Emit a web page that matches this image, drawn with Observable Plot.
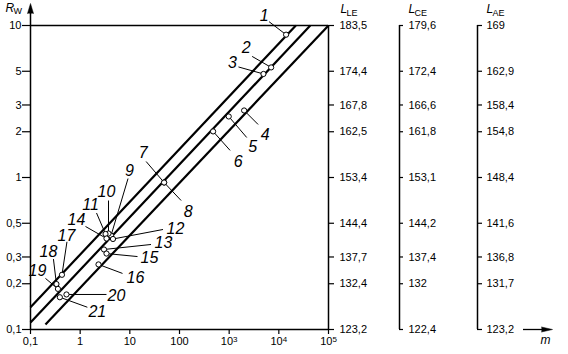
<!DOCTYPE html>
<html><head><meta charset="utf-8">
<script src="https://cdn.jsdelivr.net/npm/d3@7"></script>
<script src="https://cdn.jsdelivr.net/npm/@observablehq/plot@0.6"></script>
<style>body{margin:0;background:#fff;}</style>
</head><body><div id="chart"></div>
<script>
// ---- data ----
const rwTicks = [0.1, 0.2, 0.3, 0.5, 1, 2, 3, 5, 10];
const rwTickLabels = ["0,1", "0,2", "0,3", "0,5", "1", "2", "3", "5", "10"];
const lleLabels = ["123,2", "132,4", "137,7", "144,4", "153,4", "162,5", "167,8", "174,4", "183,5"];
const lceLabels = ["122,4", "132", "137,4", "144,2", "153,1", "161,8", "166,6", "172,4", "179,6"];
const laeLabels = ["123,2", "131,7", "136,8", "141,6", "148,4", "154,8", "158,4", "162,9", "169"];
const mTicks = [0.1, 1, 10, 100, 1e3, 1e4, 1e5];
const mTickLabels = ["0,1", "1", "10", "100", "10^3", "10^4", "10^5"];

const pointIds = [1, 2, 3, 4, 5, 6, 7, 8, 9, 10, 11, 12, 13, 14, 15, 16, 17, 18, 19, 20, 21];
const pointM  = [1.4e4, 7.0e3, 4.9e3, 2.0e3, 980, 475, 49, 49, 4.18, 3.72, 3.24, 4.58, 3.02, 3.39, 3.39, 2.34, 0.43, 0.333, 0.357, 0.53, 0.39];
const pointRw = [8.7, 5.3, 4.8, 2.76, 2.52, 2.01, 0.927, 0.927, 0.415, 0.428, 0.425, 0.394, 0.336, 0.397, 0.316, 0.268, 0.229, 0.199, 0.185, 0.170, 0.163];

const lineStartM  = [0.1, 0.1, 0.2];
const lineStartRw = [0.14, 0.111, 0.108];
const lineEndM    = [2.2e4, 4.3e4, 1e5];
const lineEndRw   = [10, 10, 10];

const scaleNames = ["LE", "CE", "AE"];

// ---- layout (pixels) ----
const W = 568, H = 354;
const mL = 30, mR = 240, mT = 25, mB = 25;
const pxX = (W - mL - mR) / 6;   // px per decade of m
const pxY = (H - mT - mB) / 2;   // px per decade of Rw
// label centre offset [dx,dy] and leader end offset [ex,ey] from each point
const labelLayout = {
  1: [-22, -19, -17, -13], 2: [-25, -20, -19, -11], 3: [-31, -11, -25, -7],
  4: [21, 24, 14, 14], 5: [24, 30, 18, 21], 6: [25, 30, 17, 19],
  7: [-21, -30, -18, -21], 8: [24, 29, 17, 18],
  9: [18.5, -65, 17, -57], 10: [-2, -42, 0, -33], 11: [-15, -29, -9, -21],
  12: [62.5, -10.5, 50, -9.5], 13: [59.5, -7, 47, -5], 14: [-30, -19, -21, -12],
  15: [43, 4, 31, 3], 16: [37, 13, 24, 9],
  17: [4.5, -38.5, 5, -33], 18: [-8, -32.5, -3, -25], 19: [-20.5, -18.5, -12.5, -10.5],
  20: [50, 1, 40, 0], 21: [37.5, 15, 27.5, 10]
};
const axisShift = [0, 71, 149];
const axisTick = [[6, 5], [4, 5], [5, 4]];

const shift = (v, px, per) => v * Math.pow(10, px / per);
const points = pointIds.map((id, i) => ({id, m: pointM[i], rw: pointRw[i], off: labelLayout[id]}));
const lines = lineStartM.map((_, i) => ({x1: lineStartM[i], y1: lineStartRw[i], x2: lineEndM[i], y2: lineEndRw[i]}));
const mapOf = (keys, labels) => new Map(keys.map((k, i) => [k, labels[i]]));
const rwFmt = mapOf(rwTicks, rwTickLabels);
const mFmt = mapOf(mTicks, mTickLabels);
const rightFmts = [mapOf(rwTicks, lleLabels), mapOf(rwTicks, lceLabels), mapOf(rwTicks, laeLabels)];

const rightAxes = [];
scaleNames.forEach((name, k) => {
  const [ts, tp] = axisTick[k];
  rightAxes.push(Plot.ruleX([1e5], {dx: axisShift[k], strokeWidth: 1.5}));
  rightAxes.push(Plot.ruleY(rwTicks, {y: d => d, x1: 1e5, x2: shift(1e5, ts, pxX), dx: axisShift[k], strokeWidth: 1.2}));
  rightAxes.push(Plot.text(rwTicks, {x: 1e5, y: d => d, dx: axisShift[k] + ts + tp, text: d => rightFmts[k].get(d),
    textAnchor: "start", fontSize: 11}));
  rightAxes.push(Plot.text([name], {x: 1e5, y: 10, dx: axisShift[k] + (k === 0 ? 12 : 9), dy: -16, text: () => "L",
    textAnchor: "start", fontStyle: "italic", fontSize: 12}));
  rightAxes.push(Plot.text([name], {x: 1e5, y: 10, dx: axisShift[k] + (k === 0 ? 18 : 15), dy: -12.5, text: d => d,
    textAnchor: "start", fontSize: 9}));
});

const chart = Plot.plot({
  width: W, height: H,
  marginLeft: mL, marginRight: mR, marginTop: mT, marginBottom: mB,
  style: {fontFamily: "'Liberation Sans', Arial, sans-serif", fontSize: "11px", background: "#fff", color: "#000", overflow: "visible"},
  x: {type: "log", domain: [0.1, 1e5], label: null},
  y: {type: "log", domain: [0.1, 10], label: null, axis: null},
  marks: [
    Plot.ruleY(rwTicks, {y: d => d, x1: shift(0.1, -8, pxX), x2: 0.1, strokeWidth: 1.2}),
    Plot.text(rwTicks, {x: 0.1, y: d => d, dx: -9, text: d => rwFmt.get(d), textAnchor: "end", fontSize: 11}),
    Plot.axisX(mTicks, {anchor: "bottom", tickSize: 5, tickPadding: 3, tickFormat: d => mFmt.get(d), strokeWidth: 1.2, label: null}),
    Plot.ruleY([10], {strokeWidth: 1.5}),
    Plot.ruleY([0.1], {strokeWidth: 1.5}),
    Plot.ruleX([0.1], {insetTop: -13, strokeWidth: 1.5}),
    Plot.vector([0], {x: 0.1, y: 10, dy: -12, length: 10, shape: "spike", r: 3, anchor: "start", fill: "black", stroke: "black", strokeWidth: 0.5}),
    Plot.ruleY([0.1], {insetLeft: 493, insetRight: -216, strokeWidth: 1.3}),
    Plot.vector([0], {x: 1e5, y: 0.1, dx: 213, length: 11, rotate: 90, shape: "spike", r: 2.5, anchor: "start", fill: "black", stroke: "black", strokeWidth: 0.5}),
    Plot.text(["m"], {x: 1e5, y: 0.1, dx: 217, dy: 11, text: d => d, fontStyle: "italic", fontSize: 12}),
    Plot.text(["R"], {x: 0.1, y: 10, dx: -25, dy: -17.5, text: d => d, textAnchor: "start", fontStyle: "italic", fontSize: 12}),
    Plot.text(["W"], {x: 0.1, y: 10, dx: -17, dy: -14, text: d => d, textAnchor: "start", fontSize: 9}),
    ...rightAxes,
    Plot.link(lines, {x1: "x1", y1: "y1", x2: "x2", y2: "y2", stroke: "black", strokeWidth: 2.2}),
    Plot.link(points, {x1: "m", y1: "rw", x2: d => shift(d.m, d.off[2], pxX), y2: d => shift(d.rw, -d.off[3], pxY), stroke: "black", strokeWidth: 1}),
    Plot.dot(points, {x: "m", y: "rw", r: 2.6, fill: "white", stroke: "black", strokeWidth: 1}),
    Plot.text(points, {x: d => shift(d.m, d.off[0], pxX), y: d => shift(d.rw, -d.off[1], pxY), text: d => String(d.id),
      fontSize: 16, fontStyle: "italic"})
  ]
});
// render "10^n" tick labels with a real superscript
d3.select(chart).selectAll('g[aria-label="x-axis tick label"] text').each(function () {
  const t = d3.select(this);
  const s = t.text();
  if (s.includes("^")) {
    const [base, exp] = s.split("^");
    t.text(base);
    t.append("tspan").attr("dy", "-0.45em").attr("font-size", "8px").text(exp);
  }
});
document.getElementById("chart").appendChild(chart);
</script></body></html>
